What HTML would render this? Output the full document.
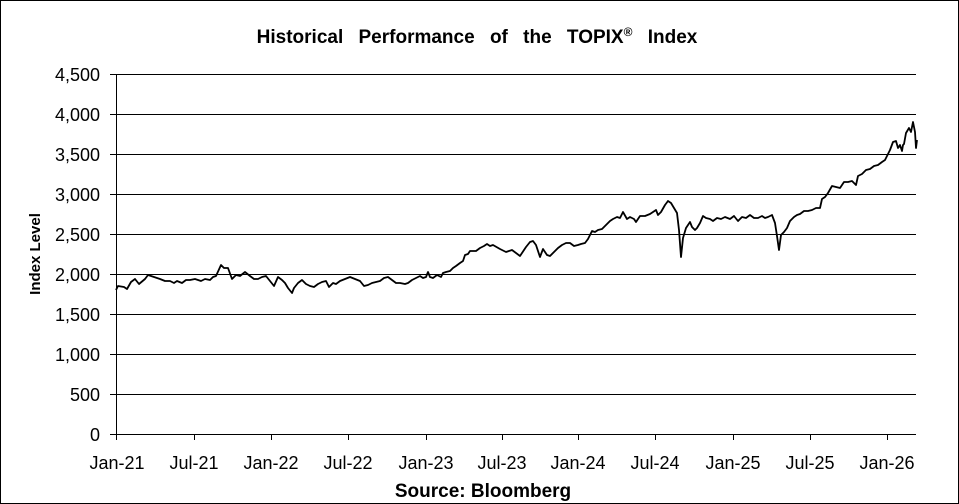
<!DOCTYPE html><html><head><style>body{margin:0;background:#fff}svg{display:block}text{font-family:"Liberation Sans",Arial,sans-serif;fill:#000}</style></head><body>
<svg width="959" height="504" xmlns="http://www.w3.org/2000/svg">
<rect x="0.5" y="0.5" width="958" height="503" fill="#fff" stroke="#000"/>
<text x="477" y="43" font-size="19" font-weight="bold" text-anchor="middle" word-spacing="10">Historical Performance of the TOPIX<tspan font-size="12" dy="-7">®</tspan><tspan dy="7"> Index</tspan></text>
<g stroke="#000" stroke-width="1">
<line x1="116" y1="74.5" x2="916" y2="74.5"/><line x1="116" y1="114.5" x2="916" y2="114.5"/><line x1="116" y1="154.5" x2="916" y2="154.5"/><line x1="116" y1="194.5" x2="916" y2="194.5"/><line x1="116" y1="234.5" x2="916" y2="234.5"/><line x1="116" y1="274.5" x2="916" y2="274.5"/><line x1="116" y1="314.5" x2="916" y2="314.5"/><line x1="116" y1="354.5" x2="916" y2="354.5"/><line x1="116" y1="394.5" x2="916" y2="394.5"/><line x1="116" y1="434.5" x2="916" y2="434.5"/>
<line x1="116.5" y1="74" x2="116.5" y2="440"/>
<line x1="194.5" y1="434" x2="194.5" y2="440"/><line x1="271.5" y1="434" x2="271.5" y2="440"/><line x1="348.5" y1="434" x2="348.5" y2="440"/><line x1="426.5" y1="434" x2="426.5" y2="440"/><line x1="502.5" y1="434" x2="502.5" y2="440"/><line x1="578.5" y1="434" x2="578.5" y2="440"/><line x1="655.5" y1="434" x2="655.5" y2="440"/><line x1="733.5" y1="434" x2="733.5" y2="440"/><line x1="810.5" y1="434" x2="810.5" y2="440"/><line x1="887.5" y1="434" x2="887.5" y2="440"/>
<line x1="110" y1="74.5" x2="116" y2="74.5"/><line x1="110" y1="114.5" x2="116" y2="114.5"/><line x1="110" y1="154.5" x2="116" y2="154.5"/><line x1="110" y1="194.5" x2="116" y2="194.5"/><line x1="110" y1="234.5" x2="116" y2="234.5"/><line x1="110" y1="274.5" x2="116" y2="274.5"/><line x1="110" y1="314.5" x2="116" y2="314.5"/><line x1="110" y1="354.5" x2="116" y2="354.5"/><line x1="110" y1="394.5" x2="116" y2="394.5"/><line x1="110" y1="434.5" x2="116" y2="434.5"/>
</g>
<g font-size="18" text-anchor="end">
<text x="100" y="81">4,500</text><text x="100" y="121">4,000</text><text x="100" y="161">3,500</text><text x="100" y="201">3,000</text><text x="100" y="241">2,500</text><text x="100" y="281">2,000</text><text x="100" y="321">1,500</text><text x="100" y="361">1,000</text><text x="100" y="401">500</text><text x="100" y="441">0</text>
</g>
<g font-size="18" text-anchor="middle">
<text x="117" y="469">Jan-21</text><text x="194" y="469">Jul-21</text><text x="271" y="469">Jan-22</text><text x="348" y="469">Jul-22</text><text x="426" y="469">Jan-23</text><text x="502" y="469">Jul-23</text><text x="578" y="469">Jan-24</text><text x="655" y="469">Jul-24</text><text x="733" y="469">Jan-25</text><text x="810" y="469">Jul-25</text><text x="887" y="469">Jan-26</text>
</g>
<text x="40" y="254" font-size="15" font-weight="bold" text-anchor="middle" transform="rotate(-90 40 254)">Index Level</text>
<text x="483" y="497" font-size="19" font-weight="bold" text-anchor="middle">Source: Bloomberg</text>
<polyline fill="none" stroke="#000" stroke-width="1.8" stroke-linejoin="round" points="116,290 118,286 124,287 127,289 131,282 135,279 139,284 145,279 148,275 154,277 160,279 165,281 170,281 174,283 177,281 182,283 186,280 190,280 195,279 201,281 205,279 210,280 213,277 216,276 221,265 224,268 228,268 232,279 236,275 240,276 245,272 250,276 254,279 258,279 262,277 266,276 270,281 274,286 278,277 282,280 285,283 288,288 292,293 294,288 298,283 302,280 306,284 310,286 314,287 318,284 322,282 326,281 329,287 333,283 336,284 340,281 345,279 350,277 355,279 360,281 364,286 368,285 372,283 376,282 380,281 384,278 388,277 392,280 396,283 400,283 405,284 408,283 412,280 416,278 420,276 423,278 426,277 428,272 430,277 433,278 437,275 441,277 443,273 446,272 450,271 453,268 456,266 460,263 463,261 465,255 468,254 470,251 473,251 476,251 480,248 484,246 487,244 490,246 493,245 500,249 506,252 512,250 520,256 526,247 530,242 533,241 536,245 540,257 543,249 547,255 550,256 554,252 558,248 562,245 566,243 570,243 574,246 578,245 581,244 585,243 588,239 592,231 595,232 598,230 602,229 606,225 610,221 613,219 617,217 620,218 623,212 627,219 630,217 634,219 636,222 640,216 645,216 650,214 653,212 656,210 658,215 661,212 665,205 668,201 671,203 674,208 677,213 679,230 681,257 683,238 686,228 690,222 692,227 695,230 697,228 700,223 703,216 706,218 710,219 713,221 717,218 721,219 725,217 730,219 734,216 738,221 742,217 746,218 750,215 754,218 758,218 762,216 765,218 768,217 772,215 775,223 777,236 779,250 781,235 784,232 787,228 790,221 794,217 797,215 800,214 804,211 808,211 812,210 816,208 820,208 822,199 825,197 828,193 832,186 836,187 840,188 844,182 848,182 852,181 856,185 858,176 862,174 866,170 870,169 874,166 878,165 882,162 885,160 887,156 890,150 893,142 896,141 898,148 900,145 902,151 903,145 904,144 906,133 909,128 911,132 913,122 915,132 916,148 917,140"/>
</svg>
</body></html>
